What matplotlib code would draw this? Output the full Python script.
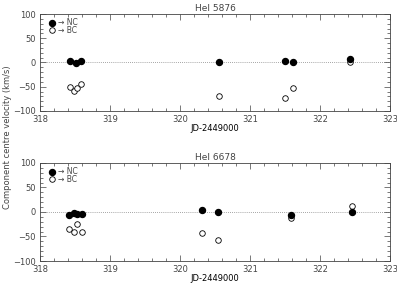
import numpy as np
import matplotlib as mpl
mpl.use("Agg")
import matplotlib.pyplot as plt
from matplotlib.ticker import MultipleLocator

# data (JD - 2449000, velocity in km/s)
jd_5876 = [318.43, 318.51, 318.59, 320.55, 321.50, 321.61, 322.43]
nc_5876 = [3, -2, 3, 0, 3, 2, 7]
jd_5876_bc = [318.43, 318.49, 318.53, 318.59, 320.55, 321.50, 321.61, 322.43]
bc_5876 = [-50, -59, -52, -45, -70, -74, -53, 0]

jd_6678 = [318.41, 318.48, 318.53, 318.60, 320.32, 320.54, 321.59, 322.45]
nc_6678 = [-7, -3, -4, -4, 4, 0, -7, 0]
bc_6678 = [-34, -40, -24, -40, -43, -57, -12, 12]

titles = ["HeI 5876", "HeI 6678"]

col = "#444444"
mpl.rcParams["font.size"] = 6
mpl.rcParams["text.color"] = col
mpl.rcParams["axes.edgecolor"] = col
mpl.rcParams["xtick.color"] = col
mpl.rcParams["ytick.color"] = col

fig = plt.figure(figsize=(3.97, 2.86), dpi=100)
ax1 = fig.add_axes([0.1008, 0.612, 0.882, 0.339])
ax2 = fig.add_axes([0.1008, 0.0874, 0.882, 0.343])

panels = [
    (ax1, jd_5876, nc_5876, jd_5876_bc, bc_5876, titles[0]),
    (ax2, jd_6678, nc_6678, jd_6678, bc_6678, titles[1]),
]

for ax, xn, yn, xb, yb, title in panels:
    ax.axhline(0, color="#888888", lw=0.6, ls=(0, (1, 1.5)), zorder=1)
    ax.plot(xb, yb, "o", mfc="white", mec="black", mew=0.6, ms=4, zorder=2)
    ax.plot(xn, yn, "o", color="black", ms=4.3, zorder=3)

    # legend drawn in data space like the original
    ax.plot([318.17], [82], "o", color="black", ms=4.3)
    ax.plot([318.17], [67], "o", mfc="white", mec="black", mew=0.6, ms=4)
    ax.text(318.25, 82, "\u2192 NC", va="center", ha="left", fontsize=5.5)
    ax.text(318.25, 66, "\u2192 BC", va="center", ha="left", fontsize=5.5)

    ax.set_xlim(318, 323)
    ax.set_ylim(-100, 100)
    ax.xaxis.set_major_locator(MultipleLocator(1))
    ax.xaxis.set_minor_locator(MultipleLocator(0.2))
    ax.yaxis.set_major_locator(MultipleLocator(50))
    ax.yaxis.set_minor_locator(MultipleLocator(10))
    ax.tick_params(which="both", direction="in", top=True, right=True, width=0.5)
    ax.tick_params(which="major", length=4, pad=3)
    ax.tick_params(which="minor", length=2)
    for s in ax.spines.values():
        s.set_linewidth(0.6)
    ax.set_title(title, fontsize=6.5, pad=2)
    ax.set_xlabel("JD-2449000", labelpad=0)

fig.text(0.02, 0.52, "Component centre velocity (km/s)", rotation=90,
         va="center", ha="center", fontsize=6)

fig.savefig("out.png", dpi=100)
